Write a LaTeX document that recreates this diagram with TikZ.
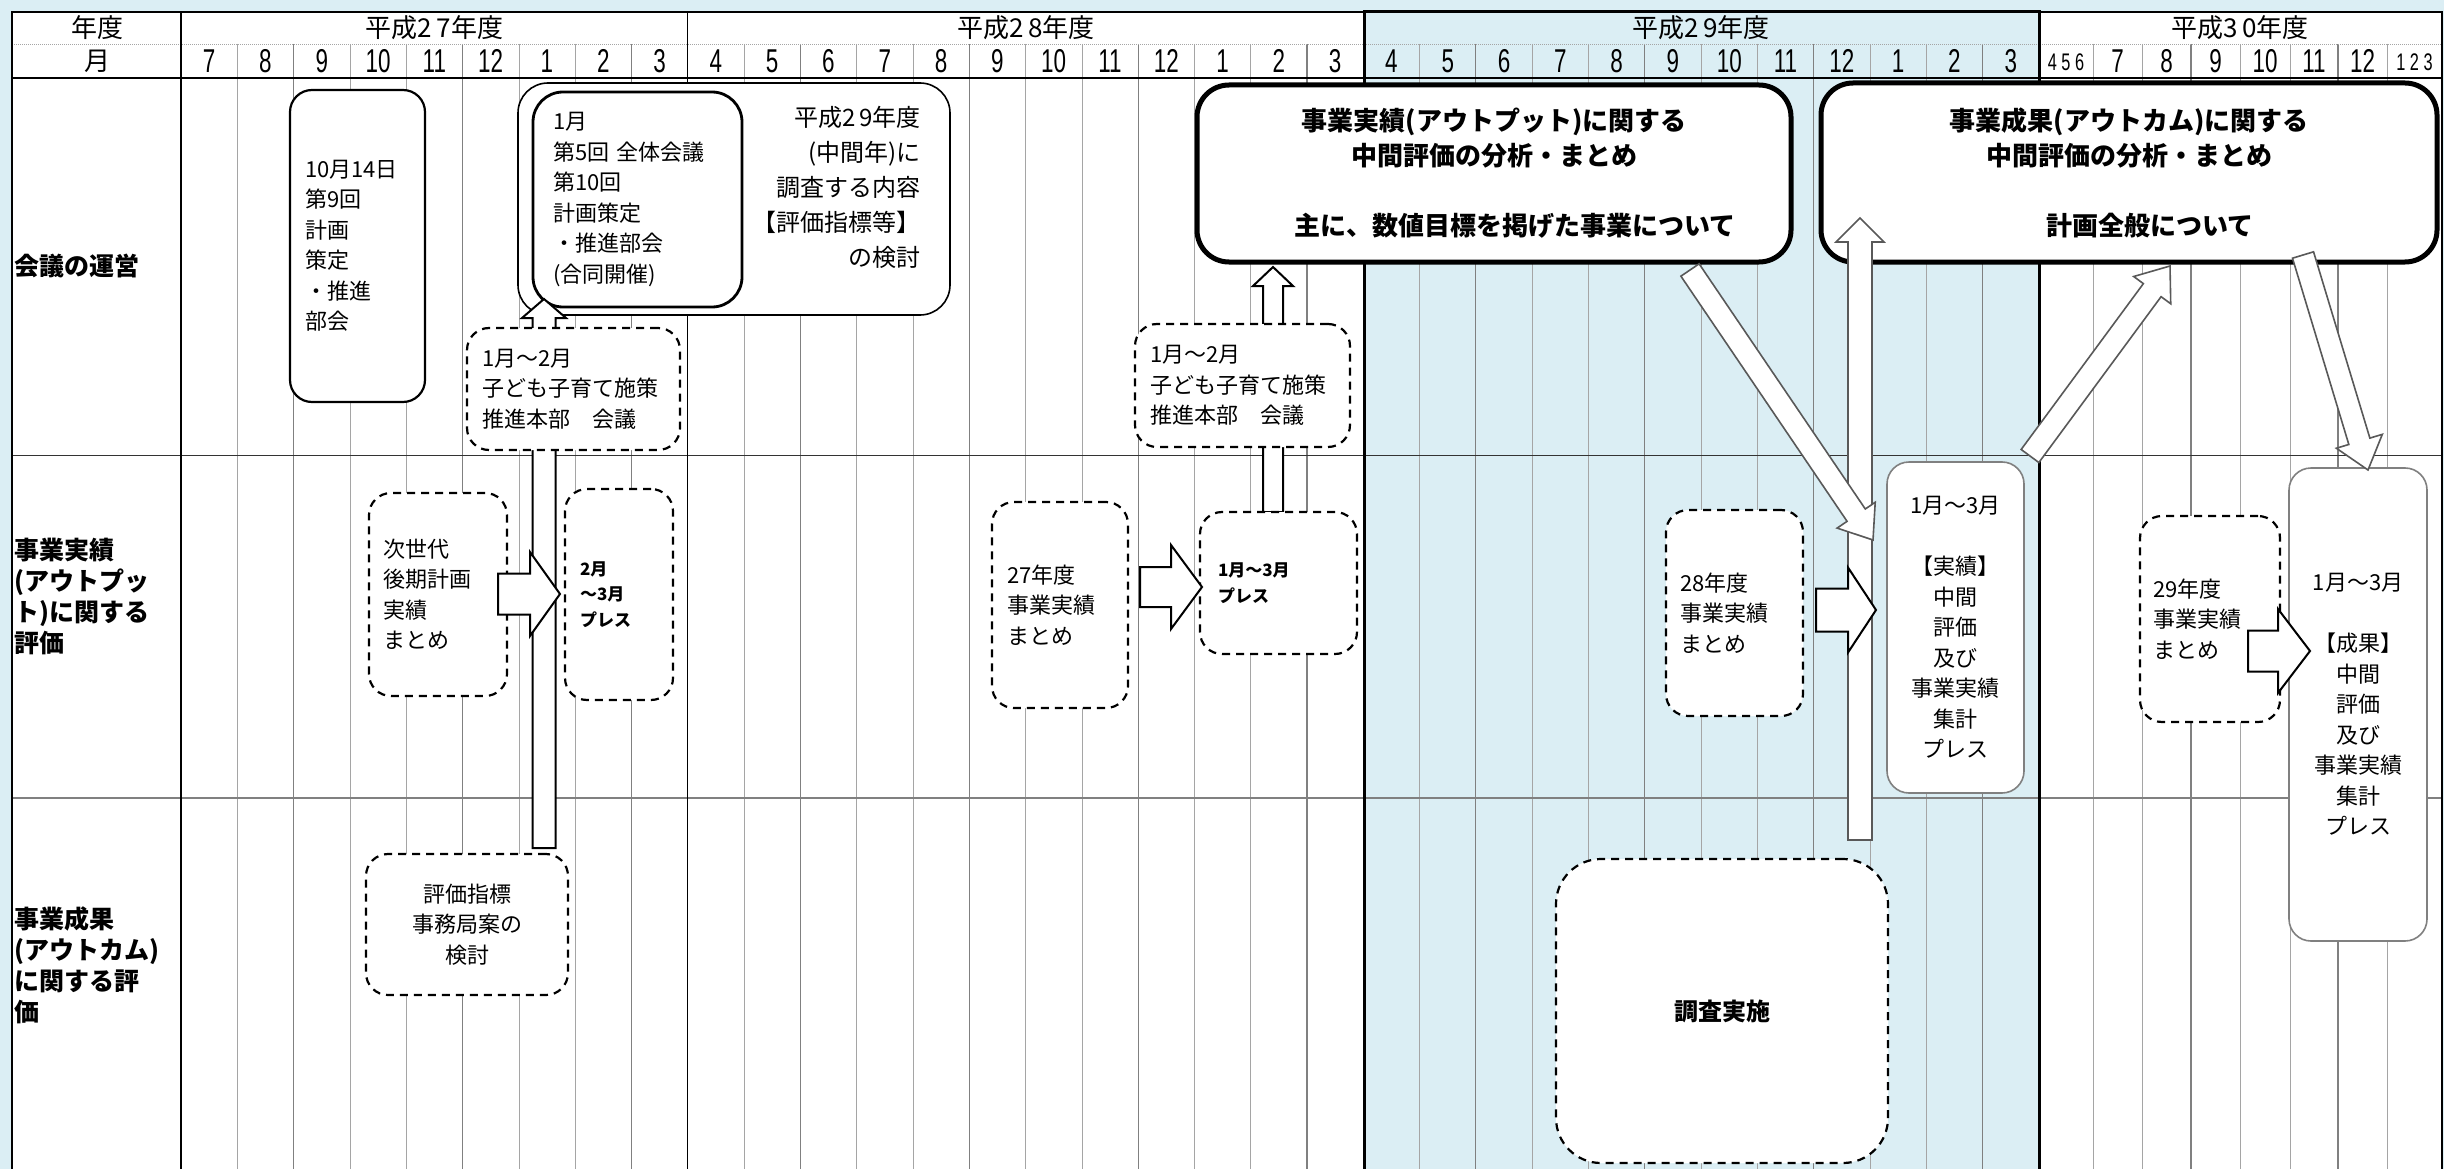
\documentclass[tikz,border=0pt]{standalone}
\usepackage{fontspec}
\setmainfont{Noto Sans CJK JP}
\newfontfamily\narrowfont{Liberation Sans}[FakeStretch=0.68]
\usepackage{xcolor}
\definecolor{mizuiro}{RGB}{219,238,244}
\definecolor{haiiro}{RGB}{128,128,128}
\definecolor{usuHaiiro}{RGB}{165,165,165}
\usepackage{tikz}
\usetikzlibrary{calc,positioning}
\tikzstyle{yline}=[black, line width=1.2pt]
\tikzstyle{qline}=[haiiro, line width=1.1pt]
\tikzstyle{mline}=[usuHaiiro, line width=0.6pt]
\tikzstyle{header}=[inner sep=0pt, font=\fontsize{26}{30}\selectfont]
\tikzstyle{monthlabel}=[inner sep=0pt, font=\fontsize{33}{36}\narrowfont]
\tikzstyle{smallmonth}=[inner sep=0pt, font=\fontsize{24}{26}\narrowfont]
\tikzstyle{rowlabel}=[anchor=west, align=left, inner sep=0pt,
                      font=\bfseries\fontsize{25}{31}\selectfont]
\tikzstyle{kbox}=[draw, fill=white, rounded corners=22pt, line width=2.2pt,
                  inner sep=0pt, align=left, font=\fontsize{22}{30.5}\selectfont]
\tikzstyle{dbox}=[kbox, dash pattern=on 8pt off 6pt]
\tikzstyle{gbox}=[kbox, draw=haiiro, line width=1.6pt, align=center]
\tikzstyle{bigbox}=[draw, fill=white, rounded corners=32pt, line width=5pt,
                    inner sep=0pt, align=center,
                    font=\bfseries\fontsize{26}{35}\selectfont]
\tikzstyle{pressfont}=[font=\bfseries\fontsize{17}{25.5}\selectfont]
\tikzstyle{barrow}=[draw, fill=white, line width=2pt, line join=miter]
\tikzstyle{garrow}=[barrow, draw=black!65, line width=1.6pt]

% block arrow: [style] from, to, shaft half width, head half width, head length
\newcommand\blockarrow[6][]{%
  \coordinate (bah) at ($(#3)!#6!(#2)$);
  \draw[barrow,#1] ($(#2)!#4!90:(#3)$) -- ($(bah)!#4!-90:(#2)$)
    -- ($(bah)!#5!-90:(#2)$) -- (#3) -- ($(bah)!#5!90:(#2)$)
    -- ($(bah)!#4!90:(#2)$) -- ($(#2)!#4!-90:(#3)$) -- cycle;
}

\begin{document}
\begin{tikzpicture}[x=1pt,y=-1pt]

    \useasboundingbox (0,0) rectangle (2444,1169);
    \fill[mizuiro] (0,0) rectangle (2444,1169);
    \fill[white] (12,12) rectangle (2442,1169);
    \fill[mizuiro] (1364,12) rectangle (2039,1169);

    % month grid, H27 to H29
    \foreach \k in {1,...,32}{
        \pgfmathtruncatemacro\mon{mod(6+\k,12)+1}
        \pgfmathtruncatemacro\qtr{mod(\mon,3)}
        \ifnum\mon=4 \def\ls{yline}\else
          \ifnum\qtr=0 \def\ls{qline}\else\def\ls{mline}\fi
        \fi
        \draw[\ls] (181+56.3*\k,44) -- (181+56.3*\k,1169);
    }
    \foreach \k in {0,...,32}{
        \pgfmathtruncatemacro\mon{mod(6+\k,12)+1}
        \node[monthlabel] (m\k) at (181+56.3*\k+28.15,61) {\mon};
    }
    % H30
    \foreach \x in {2093,2142,2240,2290,2387}
        \draw[mline] (\x,44) -- (\x,1169);
    \foreach \x in {2191,2338}
        \draw[qline] (\x,44) -- (\x,1169);
    \node[smallmonth] (m456) at (2066,62) {4 5 6};
    \foreach \x/\m in {2117.5/7,2166.5/8,2215.5/9,2265/10,2314/11,2362.5/12}
        \node[monthlabel] (m\m b) at (\x,61) {\m};
    \node[smallmonth] (m123) at (2414.5,62) {1 2 3};

    % rows and frame
    \draw[usuHaiiro, line width=0.8pt, dash pattern=on 1pt off 1pt] (12,44) -- (2442,44);
    \draw[yline] (12,78) -- (2442,78);
    \draw[black!80, line width=1pt] (12,455) -- (2442,455);
    \draw[haiiro, line width=1.2pt] (12,798) -- (2442,798);
    \draw[yline] (12,1169) -- (12,12) -- (2442,12) -- (2442,1169);
    \foreach \x in {181,687.7}
        \draw[yline] (\x,12) -- (\x,1169);
    \draw[line width=3pt] (1364,1169) -- (1364,12) -- (2039,12) -- (2039,1169);

    % headers
    \node[header] (nendo) at (97.5,28) {年度};
    \node[header] (tsuki) at (97.5,61) {月};
    \node[header] (h27) at (434.5,28) {平成2\,7年度};
    \node[header] (h28) at (1026,28) {平成2\,8年度};
    \node[header] (h29) at (1701,28) {平成2\,9年度};
    \node[header] (h30) at (2240,28) {平成3\,0年度};

    \node[rowlabel] (unei) at (14,266) {会議の運営};
    \node[rowlabel] (jisseki) at (14,596) {事業実績\\(アウトプッ\\ト)に関する\\評価};
    \node[rowlabel] (seika) at (14,965) {事業成果\\(アウトカム)\\に関する評\\価};

    % meeting row
    \node[kbox, minimum width=135pt, minimum height=312pt, text width=105pt]
        (kaigi9) at (357.5,246) {10月14日\\第9回\\計画\\策定\\・推進\\部会};
    \node[kbox, rounded corners=30pt, line width=1.6pt, minimum width=432pt,
        minimum height=232pt] (fukidashi) at (734,199) {};
    \node[kbox, rounded corners=30pt, line width=2.8pt, minimum width=209pt,
        minimum height=215pt, text width=169pt] (goudou) at (637.5,199.5)
        {1月\\第5回 全体会議\\第10回\\計画策定\\・推進部会\\(合同開催)};
    \node[anchor=east, align=right, inner sep=0pt, font=\fontsize{24}{35}\selectfont]
        (naiyou) at (921,187) {平成2\,9年度\\(中間年)に\\調査する内容\\【評価指標等】\\の検討};

    \node[bigbox, minimum width=594pt, minimum height=177pt] (output) at (1494,173.5)
        {事業実績(アウトプット)に関する\\中間評価の分析・まとめ\\[35pt]\hspace*{42pt}主に、数値目標を掲げた事業について};
    \node[bigbox, minimum width=616pt, minimum height=179pt] (outcome) at (2129,172.5)
        {事業成果(アウトカム)に関する\\中間評価の分析・まとめ\\[35pt]\hspace*{42pt}計画全般について};

    % long up arrows
    \coordinate (a27s) at (544,848);
    \coordinate (a27e) at (544,299);
    \blockarrow{a27s}{a27e}{11.5pt}{22pt}{19pt}
    \coordinate (a28s) at (1273,512);
    \coordinate (a28e) at (1273,267);
    \blockarrow{a28s}{a28e}{10pt}{20pt}{19pt}

    % H27
    \node[dbox, minimum width=213pt, minimum height=122pt, text width=183pt]
        (honbu27) at (573.5,389) {1月～2月\\子ども子育て施策\\推進本部　会議};
    \node[dbox, minimum width=138pt, minimum height=203pt, text width=110pt]
        (jisedai) at (438,594.5) {次世代\\後期計画\\実績\\まとめ};
    \node[dbox, pressfont, minimum width=108pt, minimum height=211pt, text width=78pt]
        (press27) at (619,594.5) {2月\\～3月\\プレス};
    \node[dbox, align=center, minimum width=202pt, minimum height=141pt, text width=172pt]
        (shihyou) at (467,924.5) {評価指標\\事務局案の\\検討};

    % H28
    \node[dbox, minimum width=215pt, minimum height=123pt, text width=185pt]
        (honbu28) at (1242.5,385.5) {1月～2月\\子ども子育て施策\\推進本部　会議};
    \node[dbox, minimum width=136pt, minimum height=206pt, text width=106pt]
        (matome27) at (1060,605) {27年度\\事業実績\\まとめ};
    \node[dbox, pressfont, minimum width=157pt, minimum height=142pt, text width=121pt]
        (press28) at (1278.5,583) {1月～3月\\プレス};

    % H29 and H30
    \node[dbox, minimum width=137pt, minimum height=206pt, text width=109pt]
        (matome28) at (1734.5,613) {28年度\\事業実績\\まとめ};
    \node[gbox, minimum width=137pt, minimum height=331pt]
        (chukan1) at (1955.5,627.5)
        {1月～3月\\[30.5pt]【実績】\\中間\\評価\\及び\\事業実績\\集計\\プレス};
    \node[dbox, rounded corners=45pt, align=center, minimum width=332pt, minimum height=304pt,
        font=\bfseries\fontsize{24}{30}\selectfont] (chousa) at (1722,1011) {調査実施};
    \node[dbox, minimum width=140pt, minimum height=206pt, text width=114pt]
        (matome29) at (2210,619) {29年度\\事業実績\\まとめ};
    \node[gbox, minimum width=138pt, minimum height=473pt]
        (chukan2) at (2358,704.5)
        {1月～3月\\[30.5pt]【成果】\\中間\\評価\\及び\\事業実績\\集計\\プレス};

    % big arrows
    \coordinate (b29s) at (1860,840);
    \coordinate (b29e) at (1860,218);
    \blockarrow[garrow]{b29s}{b29e}{12pt}{24pt}{24pt}
    \coordinate (c29s) at (1690,270);
    \coordinate (c29e) at (1873,540);
    \blockarrow[garrow]{c29s}{c29e}{11pt}{23pt}{30pt}
    \coordinate (d29s) at (2030,456);
    \coordinate (d29e) at (2170,266);
    \blockarrow[garrow]{d29s}{d29e}{11pt}{23pt}{30pt}
    \coordinate (e30s) at (2303,255);
    \coordinate (e30e) at (2368,470);
    \blockarrow[garrow]{e30s}{e30e}{11pt}{24pt}{30pt}

    % right arrows
    \coordinate (y27s) at (498,594);
    \coordinate (y27e) at (560,594);
    \blockarrow{y27s}{y27e}{20.5pt}{42pt}{30pt}
    \coordinate (y28s) at (1140,587);
    \coordinate (y28e) at (1202,587);
    \blockarrow{y28s}{y28e}{20pt}{42pt}{31pt}
    \coordinate (y29s) at (1816,610);
    \coordinate (y29e) at (1876,610);
    \blockarrow{y29s}{y29e}{21.5pt}{42.5pt}{28pt}
    \coordinate (y30s) at (2248,651);
    \coordinate (y30e) at (2310,651);
    \blockarrow{y30s}{y30e}{20.5pt}{42pt}{32pt}

\end{tikzpicture}
\end{document}
